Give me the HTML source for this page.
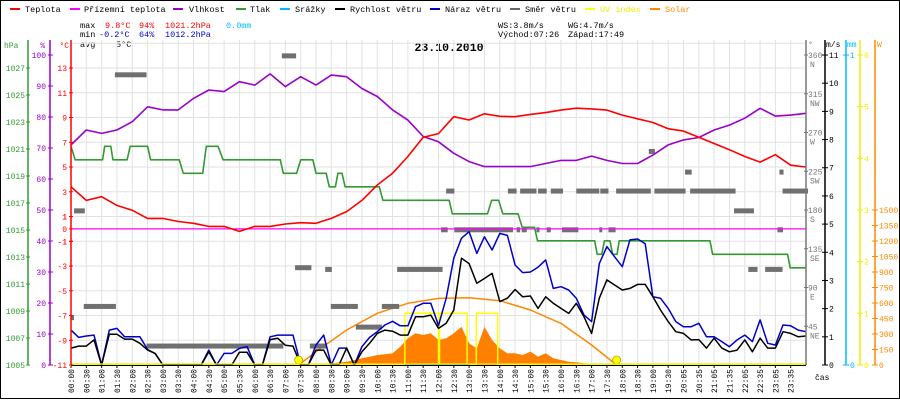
<!DOCTYPE html>
<html><head><meta charset="utf-8">
<style>
html,body{margin:0;padding:0;background:#fff;}
svg{display:block;}
text{font-family:"Liberation Mono",monospace;}
</style></head>
<body>
<svg id="chart" width="900" height="400" viewBox="0 0 900 400" xmlns="http://www.w3.org/2000/svg">
<rect x="0.5" y="0.5" width="899" height="398" fill="#fff" stroke="#000"/>
<g id="legend" font-size="8.5">
 <g><rect x="10" y="8" width="10" height="2" fill="#f00"/><text x="25" y="12">Teplota</text></g>
 <g><rect x="70" y="8" width="10" height="2" fill="#f0f"/><text x="84" y="12">Přízemní teplota</text></g>
 <g><rect x="173" y="8" width="10" height="2" fill="#90c"/><text x="189" y="12">Vlhkost</text></g>
 <g><rect x="236" y="8" width="10" height="2" fill="#393"/><text x="250" y="12">Tlak</text></g>
 <g><rect x="280" y="8" width="10" height="2" fill="#0bf"/><text x="295" y="12">Srážky</text></g>
 <g><rect x="335" y="8" width="10" height="2" fill="#000"/><text x="350" y="12">Rychlost větru</text></g>
 <g><rect x="430" y="8" width="10" height="2" fill="#00c"/><text x="445" y="12">Náraz větru</text></g>
 <g><rect x="510" y="8" width="10" height="2" fill="#666"/><text x="525" y="12">Směr větru</text></g>
 <g><rect x="585" y="8" width="10" height="2" fill="#ff0"/><text x="600" y="12" fill="#ee0">UV index</text></g>
 <g><rect x="650" y="8" width="10" height="2" fill="#f80"/><text x="665" y="12" fill="#f80">Solar</text></g>
</g>
<g font-size="8.5">
 <text x="80" y="28">max</text><text x="105" y="28" fill="#f00">9.8°C</text><text x="139" y="28" fill="#f00">94%</text><text x="165" y="28" fill="#f00">1021.2hPa</text><text x="226" y="28" fill="#0bf">0.0mm</text>
 <text x="80" y="37">min</text><text x="99" y="37" fill="#00c">-0.2°C</text><text x="139" y="37" fill="#00c">64%</text><text x="165" y="37" fill="#00c">1012.2hPa</text>
 <text x="80" y="47">avg</text><text x="116" y="47">5°C</text>
 <text x="498" y="28">WS:3.8m/s</text><text x="568" y="28">WG:4.7m/s</text>
 <text x="498" y="37">Východ:07:26</text><text x="568" y="37">Západ:17:49</text>
</g>
<text x="449" y="51" font-size="11.5" font-weight="bold" text-anchor="middle">23.10.2010</text>
<g id="grid"></g>
<g id="marks"></g>
<g id="axes"></g>
</svg>
<script>
// ---- data ----
const halfHourLabels = ["00:00","00:30","01:00","01:30","02:00","02:30","03:00","03:30","04:00","04:30","05:00","05:30","06:00","06:30","07:00","07:30","08:00","08:30","09:00","09:30","10:00","10:30","11:00","11:30","12:00","12:30","13:00","13:30","14:00","14:30","15:00","15:30","16:00","16:30","17:00","17:30","18:00","18:30","19:00","19:30","20:05","20:35","21:05","21:35","22:05","22:35","23:05","23:35"];
const temperature = [3.4,2.3,2.6,1.9,1.5,0.85,0.85,0.6,0.45,0.2,0.2,-0.2,0.2,0.2,0.4,0.5,0.45,0.85,1.4,2.3,3.55,4.5,5.85,7.4,7.7,9.07,8.8,9.3,9.1,9.07,9.25,9.4,9.6,9.75,9.7,9.6,9.2,8.9,8.6,8.1,7.9,7.4,6.9,6.4,5.85,5.4,6.0,5.15,5.0];
const humidity = [71,75.8,74.7,75.8,78.5,83.3,82.3,82.3,86,88.7,88.2,91.4,90.3,93.9,89.8,93,90.3,93.5,93,89.2,86.6,82.3,79,73.7,72,68.3,65.6,64,64,64,64,65,66,66,67.4,66,65,65,67.7,71,72.6,73.4,75.8,77.4,79.6,82.8,80.3,80.6,81.2];
const pressTimes = [0,8,62,66,78,82,110,116,150,156,212,220,258,265,288,298,410,416,442,450,474,480,500,506,518,523,531,537,604,611,741,747,816,824,838,846,876,884,908,914,1026,1031,1040,1045,1056,1061,1070,1074,1252,1257,1404,1409,1440];
const pressValues = [1021.2,1020.2,1020.2,1021.2,1021.2,1020.2,1020.2,1021.2,1021.2,1020.2,1020.2,1019.2,1019.2,1021.2,1021.2,1020.2,1020.2,1019.2,1019.2,1020.2,1020.2,1019.2,1019.2,1018.2,1018.2,1019.2,1019.2,1018.2,1018.2,1017.2,1017.2,1016.2,1016.2,1017.2,1017.2,1016.2,1016.2,1015.2,1015.2,1014.2,1014.2,1013.2,1013.2,1014.2,1014.2,1013.2,1013.2,1014.2,1014.2,1013.2,1013.2,1012.2,1012.2];
const windSpeed = [0.6,0.67,0.67,0.89,0,1.09,1.09,0.92,0.92,0.77,0.53,0.41,0,0,0,0,0,0,0.47,0,0,0,0.45,0.45,0,0,0.9,0.95,0.7,0.67,0,0,
0.53,0.53,0,0,0.6,0,0.47,0.77,1.12,1.24,1.2,1.06,1.06,1.71,1.71,1.77,1.3,1.48,1.95,3.79,3.6,2.9,3.07,3.25,2.25,2.37,2.68,2.42,2.45,2.01,2.42,2.19,
2.01,1.83,2.19,1.71,1.12,2.37,3.02,2.84,2.66,2.72,2.86,2.86,2.42,1.95,1.54,1.18,1.12,0.89,0.9,0.6,0.95,0.6,0.47,0.53,0.89,0.47,0.95,0.6,0.6,1.18,1.12,1.0,1.03];
const windGust = [1.24,0.98,1.03,1.06,0,1.24,1.3,1.0,1.0,1.0,0.55,0.4,0,0,0,0,0,0,0.53,0,0.41,0.41,0.59,0.65,0,0,1.0,1.06,1.06,1.06,0,0,
0.71,1.06,0,0.6,0.6,0,0.65,0.98,1.18,1.42,1.55,1.39,1.39,2.07,2.19,2.19,1.4,2.37,3.79,4.5,4.73,3.96,4.55,4.08,4.67,4.6,3.55,3.28,3.3,3.47,3.73,2.72,
2.78,2.66,2.37,1.77,1.54,3.6,4.2,3.84,3.49,4.44,4.47,4.3,2.42,2.37,2.01,1.54,1.36,1.36,1.48,1.0,1.0,0.83,0.65,0.89,1.06,0.83,1.6,0.77,0.71,1.42,1.39,1.24,1.18];
const solar = [0,0,0,0,0,0,0,0,0,0,0,0,0,0,0,0,0,0,0,0,0,0,0,0,0,0,0,0,0,0,3,6,10,14,16,24,32,48,65,80,97,105,113,177,258,307,290,307,242,258,307,371,210,161,371,242,161,113,113,97,130,81,113,65,48,32,26,16,10,5,0,0,0,0,0,0,0,0,0,0,0,0,0,0,0,0,0,0,0,0,0,0,0,0,0,0,0];
const clearSkyTimes = [446,480,540,600,660,720,780,840,900,960,1020,1069];
const clearSkyW = [0,129,339,500,597,645,651,622,532,403,194,0];
const sunEvents = [446,1069];
const uvStart = [654,722,794];
const uvEnd = [720,776,836];
const uvValue = [1,1,1];
const dirStart = [0,6,25,86,148,413,439,468,498,509,558,609,639,725,735,751,856,873,880,883,912,915,932,940,958,962,990,1035,1037,1053,1068,1132,1143,1203,1213,1299,1327,1360,1384,1388,1394];
const dirEnd = [5,27,88,148,416,441,471,501,511,562,609,643,728,738,751,866,873,880,912,893,915,932,940,962,963,994,1035,1038,1053,1067,1136,1144,1204,1216,1302,1338,1345,1394,1395,1396,1444];
const dirDeg = [55,179,68,337,22,359,113,22,111,68,44,68,111,157,202,157,202,157,202,157,157,202,157,202,202,157,202,157,202,157,202,248,202,224,202,179,111,111,157,224,202];
const windChill = [0,0];

// ---- scales ----
const X = t => 71 + t*735/1440;
const yT = v => 228.9 - v*12.375;
const yH = h => 365 - h*3.1;
const yP = p => 365 - (p-1005)*13.5;
const yW = v => 365 - v*28.18;
const yD = d => 365 - d*310/360;
const yUV = u => 365 - u*51.67;
const yS = w => 365 - w*0.10333;

const NS="http://www.w3.org/2000/svg";
function mk(tag, parent, attrs){const e=document.createElementNS(NS,tag);for(const k in attrs)e.setAttribute(k,attrs[k]);parent.appendChild(e);return e;}
const grid=document.getElementById('grid'), marks=document.getElementById('marks'), axes=document.getElementById('axes');

// grid
for(let i=0;i<=48;i++){const l=mk('line',grid,{x1:X(i*30),x2:X(i*30),y1:40,y2:365,stroke:'#e2e2e2','stroke-width':1});}
for(let v=15;v>=-11;v-=2){mk('line',grid,{x1:71,x2:806,y1:yT(v),y2:yT(v),stroke:'#e2e2e2','stroke-width':1});}

function poly(pts,color,name,w){const p=mk('polyline',marks,{points:pts.map(a=>a[0].toFixed(1)+','+a[1].toFixed(1)).join(' '),fill:'none',stroke:color,'stroke-width':w||1.5,'stroke-linejoin':'round'});


return p;}

// solar area
{const pts=solar.map((w,i)=>[X(i*15),yS(w)]);
const d='M'+X(0)+',365 '+pts.map(a=>'L'+a[0].toFixed(1)+','+a[1].toFixed(1)).join(' ')+' L'+X(1440)+',365Z';
const a=mk('path',marks,{d:d,fill:'#ff8000',stroke:'none'});

}
// clear-sky curve
poly(clearSkyTimes.map((t,i)=>[X(t),yS(clearSkyW[i])]),'#f80','solar-clear-sky-curve',1.5);
// UV
{let pts=[[X(0),365]];uvStart.forEach((s,i)=>{pts.push([X(s),365],[X(s),yUV(uvValue[i])],[X(uvEnd[i]),yUV(uvValue[i])],[X(uvEnd[i]),365]);});pts.push([X(1440),365]);
poly(pts,'#ff0','uv-index-line',1.5);}
// rain baseline
{const r=mk('line',marks,{x1:X(654),x2:X(780),y1:364.5,y2:364.5,stroke:'#0bf','stroke-width':1.5});

}
// wind direction dashes
dirStart.forEach((s,i)=>{const r=mk('rect',marks,{x:X(s),y:yD(dirDeg[i])-2.5,width:Math.max(X(dirEnd[i])-X(s),3),height:5,fill:'#707070'});

});
// wind chill line
{const l=mk('line',marks,{x1:X(0),x2:X(1440),y1:yT(windChill[0]),y2:yT(windChill[1]),stroke:'#f0f','stroke-width':1.3});

}
// pressure
poly(pressTimes.map((t,i)=>[X(t),yP(pressValues[i])]),'#393','pressure-line',1.6);
// gust & speed
poly(windGust.map((v,i)=>[X(i*15),yW(v)]),'#00c','wind-gust-line',1.5);
poly(windSpeed.map((v,i)=>[X(i*15),yW(v)]),'#000','wind-speed-line',1.5);
// humidity, temp
poly(humidity.map((v,i)=>[X(i*30),yH(v)]),'#90c','humidity-line',1.6);
poly(temperature.map((v,i)=>[X(i*30),yT(v)]),'#f00','temperature-line',1.6);
// sun dots
sunEvents.forEach((t,i)=>{const c=mk('circle',marks,{cx:X(t),cy:360,r:4,fill:'#ff0',stroke:'#aa0','stroke-width':0.8});

});

// ---- axes ----
function axisLine(x,y1,y2,color,name){const l=mk('line',axes,{x1:x,x2:x,y1:y1,y2:y2,stroke:color,'stroke-width':1.5});

}
function label(x,y,txt,color,anchor,name){const t=mk('text',axes,{x:x,y:y,fill:color,'font-size':8,'text-anchor':anchor||'end'});t.textContent=txt;

return t;}
function tick(x1,x2,y,color){mk('line',axes,{x1:x1,x2:x2,y1:y,y2:y,stroke:color,'stroke-width':1});}
// bottom axis
{const l=mk('line',axes,{x1:71,x2:806,y1:365.5,y2:365.5,stroke:'#000','stroke-width':1});

}
mk('line',axes,{x1:71,x2:806,y1:364,y2:364,stroke:'#ee0','stroke-width':1.2});
halfHourLabels.forEach((s,i)=>{const x=X(i*30);tick(0,0,0,'#000');mk('line',axes,{x1:x,x2:x,y1:366,y2:368,stroke:'#000'});
const t=mk('text',axes,{x:x+3,y:369,'font-size':8,'text-anchor':'end',transform:'rotate(-90 '+(x+3)+' 369)'});t.textContent=s;

});
label(815,380,'čas','#000','start','x-axis-title');
// pressure axis
axisLine(28,40,365,'#393','pressure-axis');
label(4,48,'hPa','#393','start','pressure-axis-title');
for(let p=1005;p<=1027;p+=2){tick(26,30,yP(p),'#393');label(25,yP(p)+3,String(p),'#393','end','pressure-tick-label');}
// humidity axis
axisLine(50,40,365,'#90c','humidity-axis');
label(45,48,'%','#90c','end','humidity-axis-title');
for(let h=0;h<=100;h+=10){tick(48,53,yH(h),'#90c');label(46,yH(h)+3,String(h),'#90c','end','humidity-tick-label');}
// temp axis
axisLine(71,40,365,'#f00','temperature-axis');
label(69,48,'°C','#f00','end','temperature-axis-title');
for(let v=13;v>=-11;v-=2){tick(69,73,yT(v),'#f00');label(67,yT(v)+3,String(v),'#f00','end','temperature-tick-label');}
for(let v of [1,0,-1]){tick(69,73,yT(v),'#f00');label(67,yT(v)+3,String(v),'#f00','end','temperature-tick-label');}
// direction axis
axisLine(806,40,365,'#777','direction-axis');
label(808,47,'°','#777','start','direction-axis-title');
const dirNames=['','NE','E','SE','S','SW','W','NW','N'];
for(let k=1;k<=8;k++){const d=k*45;tick(804,808,yD(d),'#777');label(808,yD(d)+3,String(d),'#777','start','direction-tick-label');label(810,yD(d)+12,dirNames[k],'#777','start','direction-name-label');}
// wind speed axis
axisLine(825,40,365,'#000','wind-speed-axis');
label(826,47,'m/s','#000','start','wind-speed-axis-title');
for(let v=0;v<=11;v++){tick(822,828,yW(v),'#000');label(829,yW(v)+3,String(v),'#000','start','wind-speed-tick-label');}
// rain axis
axisLine(846,40,365,'#0bf','rain-axis');
label(847,47,'mm','#0bf','start','rain-axis-title');
tick(843,849,yW(11),'#0bf');label(850,58,'1','#0bf','start','rain-tick-label');
tick(843,849,365,'#0bf');label(850,368,'0','#0bf','start','rain-tick-label');
// uv axis
axisLine(860,40,365,'#ee0','uv-axis');
for(let u=0;u<=6;u++){tick(857,863,yUV(u),'#ee0');label(864,yUV(u)+3,String(u),'#ee0','start','uv-tick-label');}
// solar axis
axisLine(875,40,365,'#f80','solar-axis');
label(877,47,'W','#f80','start','solar-axis-title');
for(let w=0;w<=1500;w+=150){tick(872,878,yS(w),'#f80');label(879,yS(w)+3,String(w),'#f80','start','solar-tick-label');}
</script>
</body></html>
